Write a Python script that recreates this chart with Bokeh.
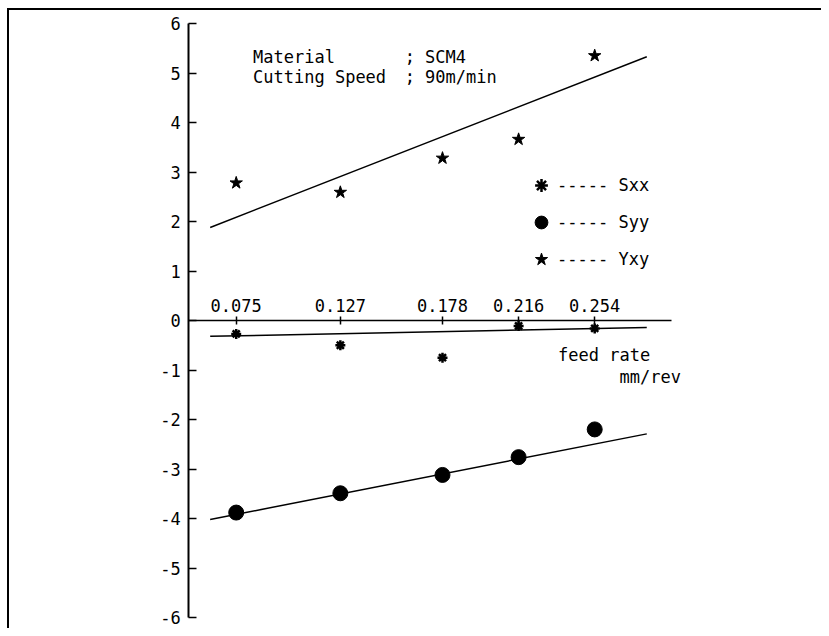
from bokeh.plotting import figure
from bokeh.models import (LinearAxis, FixedTicker, Label, Legend, LegendItem, Range1d)
from bokeh.embed import file_html
from bokeh.resources import INLINE

# ---- data ----
feed_rate = [0.075, 0.127, 0.178, 0.216, 0.254]
feed_labels = ["0.075", "0.127", "0.178", "0.216", "0.254"]
sxx = [-0.27, -0.50, -0.75, -0.11, -0.16]
syy = [-3.88, -3.49, -3.12, -2.76, -2.20]
yxy = [2.78, 2.59, 3.28, 3.66, 5.35]
fit_x = [0.062, 0.280]
sxx_fit = [-0.32, -0.14]
syy_fit = [-4.02, -2.29]
yxy_fit = [1.88, 5.33]
y_ticks = [-6, -5, -4, -3, -2, -1, 0, 1, 2, 3, 4, 5, 6]
y_tick_labels = ["-6", "-5", "-4", "-3", "-2", "-1", "0", "1", "2", "3", "4", "5", "6"]
series_names = ["Sxx", "Syy", "Yxy"]

FONT = "DejaVu Sans Mono"
FS = "17px"
X0 = 0.05128   # where the vertical axis stands

p = figure(width=821, height=628, output_backend="svg", toolbar_location=None,
           x_range=Range1d(-0.04269, 0.36724), y_range=Range1d(-6.222, 6.465),
           x_axis_location=None, y_axis_location=None, min_border=0)
p.outline_line_color = None
p.xgrid.visible = False
p.ygrid.visible = False
p.background_fill_color = None
p.border_fill_color = None
# outer frame of the printed figure: its left and top edges, drawn behind the canvas
p.styles = {
    "background-color": "white",
    "background-image": "linear-gradient(#000, #000), linear-gradient(#000, #000)",
    "background-size": "2px 100%, 100% 2px",
    "background-position": "7px 8px, 7px 8px",
    "background-repeat": "no-repeat",
}

# y axis
yax = LinearAxis(ticker=FixedTicker(ticks=y_ticks), bounds=(-6, 6), fixed_location=X0)
yax.major_label_overrides = {v: s for v, s in zip(y_ticks, y_tick_labels)}
yax.axis_line_width = 2
yax.axis_line_color = "black"
yax.major_tick_in = 8
yax.major_tick_out = 0
yax.major_tick_line_width = 1.5
yax.minor_tick_line_color = None
yax.major_label_standoff = 8
yax.major_label_text_font = FONT
yax.major_label_text_font_size = FS
yax.major_label_text_color = "black"
p.add_layout(yax, "left")

# x axis crossing at y = 0
xax = LinearAxis(ticker=FixedTicker(ticks=feed_rate), bounds=(X0, 0.2921), fixed_location=0)
xax.major_label_overrides = {v: s for v, s in zip(feed_rate, feed_labels)}
xax.axis_line_width = 1.5
xax.axis_line_color = "black"
xax.major_tick_in = 4
xax.major_tick_out = 4
xax.major_tick_line_width = 1.5
xax.minor_tick_line_color = None
xax.major_label_standoff = 5
xax.major_label_text_font = FONT
xax.major_label_text_font_size = FS
xax.major_label_text_color = "black"
p.add_layout(xax, "above")

# fitted lines
p.line(fit_x, yxy_fit, line_color="black", line_width=1.5)
p.line(fit_x, sxx_fit, line_color="black", line_width=1.5)
p.line(fit_x, syy_fit, line_color="black", line_width=1.5)

# points
r_sxx = p.scatter(feed_rate, sxx, marker="asterisk", size=10, line_width=2.5, color="black")
r_syy = p.scatter(feed_rate, syy, marker="circle", size=15, color="black")
r_yxy = p.scatter(feed_rate, yxy, marker="star", size=13, color="black")

legend = Legend(items=[LegendItem(label="----- " + series_names[0], renderers=[r_sxx]),
                       LegendItem(label="----- " + series_names[1], renderers=[r_syy]),
                       LegendItem(label="----- " + series_names[2], renderers=[r_yxy])],
                location=(525, 353), padding=0, margin=0, spacing=5,
                glyph_width=32, glyph_height=32, label_standoff=0, label_height=32,
                border_line_color=None, background_fill_alpha=0)
legend.label_text_font = FONT
legend.label_text_font_size = FS
legend.label_text_color = "black"
p.add_layout(legend)

# annotation texts
for x, y, t in [(0.0834, 5.328, "Material"), (0.0834, 4.929, "Cutting Speed"),
                (0.1591, 5.328, "; SCM4"), (0.1591, 4.929, "; 90m/min"),
                (0.2357, -0.699, "feed rate"), (0.2664, -1.137, "mm/rev")]:
    p.add_layout(Label(x=x, y=y, text=t, text_font=FONT, text_font_size=FS,
                       text_color="black", text_baseline="alphabetic", text_align="left"))

open("out.html", "w").write(file_html(p, INLINE))
